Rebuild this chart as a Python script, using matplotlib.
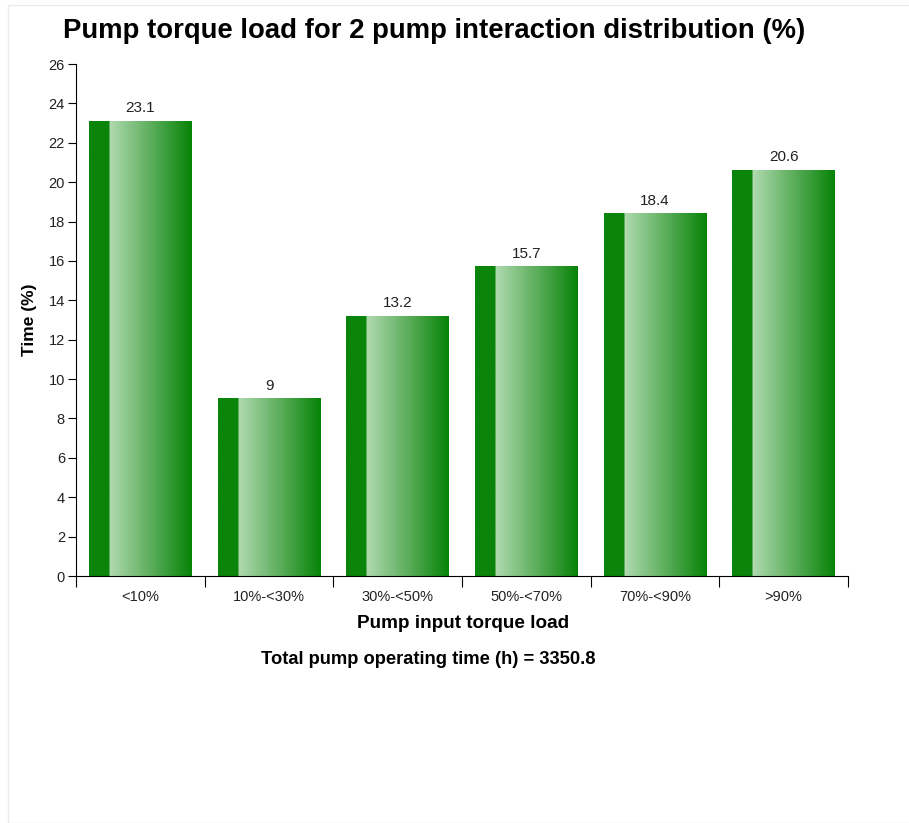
import numpy as np
import matplotlib
matplotlib.use("Agg")
import matplotlib.pyplot as plt
from matplotlib.colors import LinearSegmentedColormap
from matplotlib.patches import Rectangle

plt.rcParams['font.family'] = ['Liberation Sans', 'DejaVu Sans']

# Datos del grafico
categorias = ['<10%', '10%-<30%', '30%-<50%', '50%-<70%', '70%-<90%', '>90%']
valores = [23.1, 9, 13.2, 15.7, 18.4, 20.6]
etiquetas = ['23.1', '9', '13.2', '15.7', '18.4', '20.6']
yticks = list(range(0, 27, 2))

# degradado: franja oscura a la izquierda, luego claro -> oscuro
cmap = LinearSegmentedColormap.from_list('verde', [
    (0.0, '#0a840a'), (0.199, '#0a840a'), (0.2, '#b0dab0'),
    (0.6, '#5cae5c'), (1.0, '#068306')])

fig = plt.figure(figsize=(9.09, 8.23), dpi=100)
fig.patches.append(Rectangle((8 / 909, 0), 1, (823 - 5) / 823, transform=fig.transFigure,
                             fill=False, edgecolor='#ebebeb', linewidth=1))
ax = fig.add_axes([76 / 909, (823 - 576) / 823, (848 - 76) / 909, (576 - 64) / 823])

x = np.arange(len(categorias))
ancho = 0.8
grad = np.linspace(0, 1, 256).reshape(1, -1)
for xi, v, lab in zip(x, valores, etiquetas):
    ax.imshow(grad, extent=[xi - ancho / 2, xi + ancho / 2, 0, v], aspect='auto',
              cmap=cmap, interpolation='bilinear', zorder=2)
    ax.text(xi, v + 0.3, lab, ha='center', va='bottom', fontsize=11, color='#222222')

ax.set_xlim(-0.5, len(categorias) - 0.5)
ax.set_ylim(0, 26)

ax.spines['top'].set_visible(False)
ax.spines['right'].set_visible(False)
ax.set_yticks(yticks)
ax.tick_params(axis='y', length=6, labelsize=10.5, pad=2, labelcolor='#222222')

# marcas del eje x en los limites de cada banda, etiquetas centradas
ax.set_xticks(np.arange(len(categorias) + 1) - 0.5)
ax.set_xticklabels([])
ax.set_xticks(x, minor=True)
ax.set_xticklabels(categorias, minor=True, fontsize=10.5, color='#222222')
ax.tick_params(axis='x', which='major', length=8)
ax.tick_params(axis='x', which='minor', length=0, pad=10)

ax.set_ylabel('Time (%)', fontsize=12.5, fontweight='bold', labelpad=8)
fig.text(463 / 909, 1 - 624 / 823, 'Pump input torque load', ha='center', va='center',
         fontsize=13.6, fontweight='bold')
fig.text(428 / 909, 1 - 659 / 823, 'Total pump operating time (h) = 3350.8',
         ha='center', va='center', fontsize=13.2, fontweight='bold')
fig.text((62 + 806) / 2 / 909, 1 - 31 / 823,
         'Pump torque load for 2 pump interaction distribution (%)',
         ha='center', va='center', fontsize=19.8, fontweight='bold')

fig.savefig('out.png', dpi=100)
